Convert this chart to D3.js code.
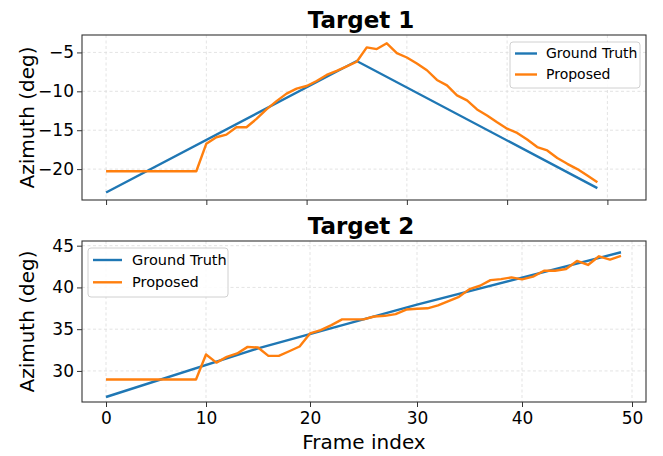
<!DOCTYPE html>
<html><head><meta charset="utf-8">
<script src="https://cdn.jsdelivr.net/npm/d3@7"></script>
<style>body{margin:0;background:#fff}svg{display:block}text{font-family:"DejaVu Sans",sans-serif;fill:#000}</style>
</head><body><svg id="c" width="663" height="456"></svg>
<script>
// ---- data ----
const framesAll = d3.range(0, 50);
const xTicks = [0, 10, 20, 30, 40, 50];

// Target 1
const t1GroundTruthFrames = [0, 25, 49];
const t1GroundTruth = [-23.0, -6.1, -22.45];
const t1Proposed = [-20.27, -20.27, -20.27, -20.27, -20.27, -20.27, -20.27, -20.27, -20.27, -20.27,
  -16.73, -15.9, -15.57, -14.62, -14.62, -13.55, -12.33, -11.26, -10.3, -9.66,
  -9.32, -8.67, -7.9, -7.38, -6.8, -6.2, -4.35, -4.57, -3.83, -5.09,
  -5.65, -6.42, -7.29, -8.54, -9.23, -10.52, -11.17, -12.33, -13.1, -13.98,
  -14.8, -15.35, -16.2, -17.16, -17.6, -18.58, -19.32, -20.0, -20.83, -21.7];
const t1YTicks = [-20, -15, -10, -5];

// Target 2
const t2GroundTruthFrames = [0, 15, 30, 49];
const t2GroundTruth = [26.88, 32.7, 37.95, 44.21];
const t2Proposed = [28.97, 28.97, 28.97, 28.97, 28.97, 28.97, 28.97, 28.97, 28.97, 28.97,
  31.97, 31.0, 31.68, 32.09, 32.88, 32.8, 31.8, 31.8, 32.36, 32.93,
  34.49, 34.89, 35.49, 36.17, 36.17, 36.17, 36.52, 36.6, 36.8, 37.35,
  37.45, 37.5, 37.85, 38.37, 38.88, 39.8, 40.2, 40.88, 41.0, 41.2,
  40.97, 41.29, 42.0, 42.0, 42.2, 43.17, 42.69, 43.73, 43.33, 43.77];
const t2YTicks = [30, 35, 40, 45];

const seriesNames = ["Ground Truth", "Proposed"];
const colors = ["#1f77b4", "#ff7f0e"];

// ---- drawing ----
const svg = d3.select("#c");
const fmt = v => (v < 0 ? "\u2212" + Math.abs(v) : String(v));

function panel(opt) {
  const {left, right, top, bottom, x, yDom, gtF, gt, prop, yTicks, title, showXLabels, legend} = opt;
  const y = d3.scaleLinear().domain(yDom).range([bottom, top]);
  const g = svg.append("g");

  // grid
  g.append("g").selectAll("line").data(xTicks).join("line")
    .attr("x1", d => x(d)).attr("x2", d => x(d)).attr("y1", top).attr("y2", bottom)
    .attr("stroke", "#dcdcdc").attr("stroke-width", 0.8).attr("stroke-dasharray", "3,2.5");
  g.append("g").selectAll("line").data(yTicks).join("line")
    .attr("x1", left).attr("x2", right).attr("y1", d => y(d)).attr("y2", d => y(d))
    .attr("stroke", "#dcdcdc").attr("stroke-width", 0.8).attr("stroke-dasharray", "3,2.5");

  // lines
  const line = d3.line().x(d => x(d[0])).y(d => y(d[1]));
  g.append("path").datum(gtF.map((f, i) => [f, gt[i]]))
    .attr("d", line).attr("fill", "none").attr("stroke", colors[0]).attr("stroke-width", 2.4);
  g.append("path").datum(framesAll.map((f, i) => [f, prop[i]]))
    .attr("d", line).attr("fill", "none").attr("stroke", colors[1]).attr("stroke-width", 2.4)
    .attr("stroke-linejoin", "round");

  // axes
  const xa = d3.axisBottom(x).tickValues(xTicks).tickSize(5).tickPadding(5)
    .tickFormat(showXLabels ? d => d : () => "");
  const ya = d3.axisLeft(y).tickValues(yTicks).tickSize(5).tickPadding(3).tickFormat(fmt);
  const gx = g.append("g").attr("transform", `translate(0,${bottom})`).call(xa);
  const gy = g.append("g").attr("transform", `translate(${left},0)`).call(ya);
  [gx, gy].forEach(a => {
    a.select(".domain").remove();
    a.selectAll(".tick line").attr("stroke", "#333").attr("stroke-width", 1);
    a.selectAll("text").style("font-family", "'DejaVu Sans',sans-serif").style("font-size", "17px").attr("fill", "#000");
  });

  // frame
  g.append("rect").attr("x", left).attr("y", top).attr("width", right - left).attr("height", bottom - top)
    .attr("fill", "none").attr("stroke", "#333").attr("stroke-width", 1.1);

  // title
  g.append("text").attr("x", (left + right) / 2 - 3).attr("y", top - 7).attr("text-anchor", "middle")
    .style("font-size", "23px").style("font-weight", "bold").text(title);

  // y label
  g.append("text").attr("transform", `translate(34,${(top + bottom) / 2}) rotate(-90)`)
    .attr("text-anchor", "middle").style("font-size", "20px").text("Azimuth (deg)");

  // legend
  const L = legend;
  const lg = g.append("g");
  lg.append("rect").attr("x", L.x).attr("y", L.y).attr("width", L.w).attr("height", L.h)
    .attr("rx", 3).attr("fill", "#fff").attr("fill-opacity", 0.85).attr("stroke", "#d0d0d0");
  seriesNames.forEach((n, i) => {
    const yy = L.y + L.first + i * L.step;
    lg.append("line").attr("x1", L.x + L.lx0).attr("x2", L.x + L.lx1).attr("y1", yy).attr("y2", yy)
      .attr("stroke", colors[i]).attr("stroke-width", 2.4);
    lg.append("text").attr("x", L.x + L.tx).attr("y", yy).attr("dy", "0.35em")
      .style("font-size", L.fs + "px").text(n);
  });
}

panel({left: 82, right: 646, top: 35, bottom: 200,
  x: d3.scaleLinear().domain([-2.4, 53.85]).range([82, 646]),
  yDom: [-23.97, -2.76],
  gtF: t1GroundTruthFrames, gt: t1GroundTruth, prop: t1Proposed, yTicks: t1YTicks,
  title: "Target 1", showXLabels: false,
  legend: {x: 510, y: 42, w: 130, h: 46, first: 11.5, step: 21, lx0: 5, lx1: 27, tx: 36, fs: 14}});

panel({left: 82, right: 646, top: 241, bottom: 402,
  x: d3.scaleLinear().domain([0, 10, 20, 30, 40, 50]).range([106, 206, 310, 417, 522, 632]),
  yDom: [26.28, 45.56],
  gtF: t2GroundTruthFrames, gt: t2GroundTruth, prop: t2Proposed, yTicks: t2YTicks,
  title: "Target 2", showXLabels: true,
  legend: {x: 88, y: 248, w: 140, h: 49, first: 12, step: 22.3, lx0: 5, lx1: 34, tx: 44, fs: 14.5}});

svg.append("text").attr("x", 364).attr("y", 449).attr("text-anchor", "middle")
  .style("font-size", "20px").text("Frame index");
</script></body></html>
